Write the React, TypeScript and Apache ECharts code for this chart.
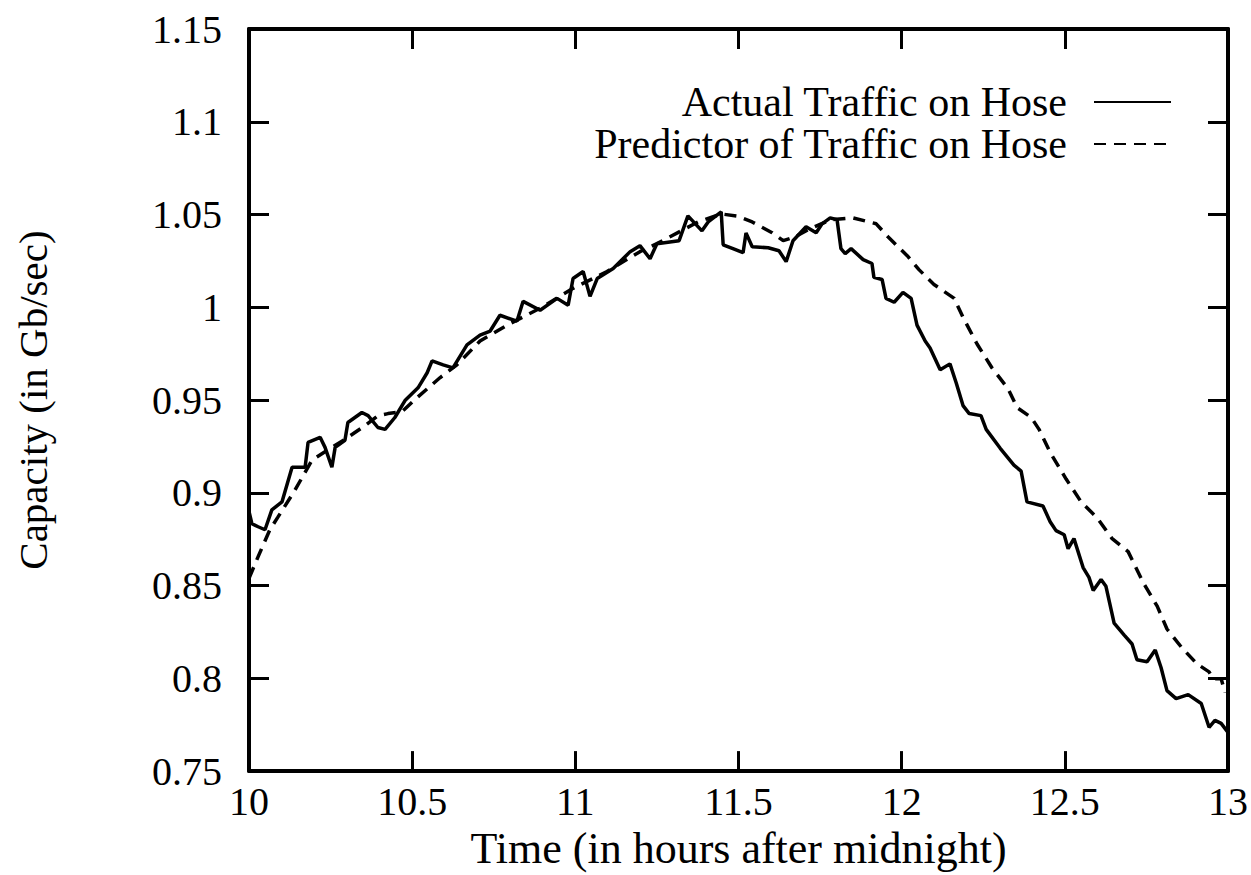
import React, { useEffect, useRef } from "react";
import * as echarts from "echarts";

// hours after midnight
const actualHours = [
  10.0, 10.009, 10.028, 10.049, 10.07, 10.101, 10.132, 10.172, 10.181, 10.218,
  10.233, 10.254, 10.264, 10.294, 10.303, 10.346, 10.365, 10.395, 10.417, 10.447,
  10.478, 10.518, 10.546, 10.561, 10.595, 10.625, 10.668, 10.708, 10.739, 10.769,
  10.821, 10.84, 10.892, 10.944, 10.978, 10.993, 11.024, 11.045, 11.067, 11.116,
  11.168, 11.198, 11.229, 11.25, 11.318, 11.345, 11.388, 11.407, 11.447, 11.453,
  11.483, 11.514, 11.523, 11.542, 11.591, 11.624, 11.646, 11.667, 11.707, 11.738,
  11.756, 11.781, 11.802, 11.814, 11.827, 11.845, 11.882, 11.909, 11.915, 11.94,
  11.952, 11.977, 12.004, 12.029, 12.047, 12.072, 12.087, 12.118, 12.148, 12.167,
  12.188, 12.207, 12.243, 12.259, 12.302, 12.344, 12.366, 12.384, 12.433, 12.455,
  12.473, 12.498, 12.51, 12.528, 12.556, 12.574, 12.587, 12.611, 12.626, 12.651,
  12.682, 12.706, 12.721, 12.752, 12.777, 12.795, 12.813, 12.841, 12.878, 12.918,
  12.942, 12.96, 12.979, 13.0,
];
const actualCapacity = [
  0.89, 0.8833, 0.8817, 0.8801, 0.8908, 0.8951, 0.9138, 0.9138, 0.9272, 0.9299,
  0.9245, 0.9138, 0.9245, 0.9283, 0.9379, 0.9433, 0.9416, 0.9352, 0.9342, 0.9406,
  0.9497, 0.9566, 0.9647, 0.9711, 0.969, 0.9673, 0.9797, 0.985, 0.9872, 0.9957,
  0.9925, 1.0032, 0.9984, 1.0048, 1.0011, 1.0155, 1.0193, 1.0059, 1.0155, 1.0209,
  1.03, 1.0332, 1.0262, 1.0343, 1.0359, 1.0493, 1.0412, 1.046, 1.0514, 1.0337,
  1.0316, 1.0294, 1.0401, 1.0326, 1.0321, 1.0305, 1.0246, 1.0359, 1.0434, 1.0402,
  1.045, 1.0482, 1.0472, 1.0316, 1.0289, 1.0316, 1.0257, 1.0236, 1.0161, 1.015,
  1.0048, 1.0027, 1.008, 1.0048, 0.9904, 0.9818, 0.9781, 0.9663, 0.9695, 0.9593,
  0.947, 0.9427, 0.9416, 0.9342, 0.924, 0.9149, 0.9117, 0.8951, 0.8929, 0.8844,
  0.8796, 0.8774, 0.8699, 0.8753, 0.8597, 0.8544, 0.8474, 0.8533, 0.8496, 0.8298,
  0.8233, 0.8185, 0.81, 0.8089, 0.8153, 0.8057, 0.7934, 0.7891, 0.7912, 0.7864,
  0.7736, 0.7773, 0.7757, 0.7709,
];

const predictorHours = [
  10.0, 10.028, 10.064, 10.089, 10.141, 10.193, 10.254, 10.294, 10.356, 10.395,
  10.426, 10.469, 10.515, 10.585, 10.637, 10.708, 10.791, 10.892, 10.993, 11.097,
  11.198, 11.25, 11.376, 11.447, 11.496, 11.542, 11.603, 11.637, 11.673, 11.719,
  11.781, 11.851, 11.922, 11.958, 12.017, 12.053, 12.099, 12.161, 12.188, 12.231,
  12.277, 12.326, 12.354, 12.397, 12.421, 12.455, 12.504, 12.55, 12.599, 12.645,
  12.694, 12.74, 12.783, 12.813, 12.859, 12.905, 12.942, 12.954, 12.979, 12.991,
];
const predictorCapacity = [
  0.8539, 0.8656, 0.8801, 0.887, 0.9015, 0.9176, 0.9245, 0.9288, 0.9363, 0.9416,
  0.9427, 0.9438, 0.9513, 0.962, 0.969, 0.9818, 0.9904, 0.9995, 1.0102, 1.0193,
  1.03, 1.0343, 1.046, 1.0503, 1.0492, 1.046, 1.0402, 1.0359, 1.038, 1.0423,
  1.0471, 1.0482, 1.045, 1.038, 1.0278, 1.0203, 1.0123, 1.0048, 0.9946, 0.9802,
  0.9673, 0.9561, 0.9459, 0.9406, 0.9342, 0.9218, 0.9074, 0.8951, 0.8865, 0.8753,
  0.8683, 0.8517, 0.8389, 0.8266, 0.8164, 0.8078, 0.8035, 0.7998, 0.7998, 0.7923,
];

const seriesNames = ["Actual Traffic on Hose", "Predictor of Traffic on Hose"];

const FONT = "'Liberation Serif', 'Times New Roman', serif";

const App: React.FC = () => {
  const chartRef = useRef<HTMLDivElement>(null);

  useEffect(() => {
    const chartDom = chartRef.current;
    if (!chartDom) return;

    const myChart = echarts.init(chartDom, undefined, { renderer: "svg" });

    const axisLine = { show: true, lineStyle: { color: "#000", width: 4 } };
    const tick = { show: true, inside: true, length: 20, lineStyle: { color: "#000", width: 3 } };

    const option: echarts.EChartsOption = {
      animation: false,
      backgroundColor: "#fff",
      textStyle: { fontFamily: FONT, color: "#000" },
      grid: { left: 249, right: 23, top: 29, bottom: 99 },
      legend: {
        data: seriesNames,
        orient: "vertical",
        align: "right",
        right: 74,
        top: 76,
        itemWidth: 77,
        itemHeight: 14,
        itemGap: 0,
        itemStyle: { opacity: 0 },
        textStyle: {
          fontFamily: FONT,
          fontSize: 42,
          color: "#000",
          lineHeight: 42,
          padding: [0, 22, 0, 0],
        },
      },
      xAxis: [
        {
          type: "value",
          min: 10,
          max: 13,
          interval: 0.5,
          name: "Time (in hours after midnight)",
          nameLocation: "middle",
          nameGap: 51,
          nameTextStyle: { fontFamily: FONT, fontSize: 44, color: "#000" },
          axisLine,
          axisTick: tick,
          splitLine: { show: false },
          axisLabel: { fontFamily: FONT, fontSize: 40, color: "#000", margin: 10 },
        },
        {
          type: "value",
          position: "top",
          min: 10,
          max: 13,
          interval: 0.5,
          axisLine,
          axisTick: tick,
          splitLine: { show: false },
          axisLabel: { show: false },
        },
      ],
      yAxis: [
        {
          type: "value",
          min: 0.75,
          max: 1.15,
          interval: 0.05,
          name: "Capacity (in Gb/sec)",
          nameLocation: "middle",
          nameGap: 196,
          nameTextStyle: { fontFamily: FONT, fontSize: 41, color: "#000" },
          axisLine,
          axisTick: tick,
          splitLine: { show: false },
          axisLabel: {
            fontFamily: FONT,
            fontSize: 40,
            color: "#000",
            margin: 27,
            formatter: (v: number) => String(parseFloat(v.toFixed(2))),
          },
        },
        {
          type: "value",
          position: "right",
          min: 0.75,
          max: 1.15,
          interval: 0.05,
          axisLine,
          axisTick: tick,
          splitLine: { show: false },
          axisLabel: { show: false },
        },
      ],
      series: [
        {
          name: seriesNames[0],
          type: "line",
          showSymbol: false,
          symbol: "none",
          data: actualHours.map((h, i) => [h, actualCapacity[i]]),
          lineStyle: { color: "#000", width: 3.5 },
          itemStyle: { color: "#000" },
        },
        {
          name: seriesNames[1],
          type: "line",
          showSymbol: false,
          symbol: "none",
          data: predictorHours.map((h, i) => [h, predictorCapacity[i]]),
          lineStyle: { color: "#000", width: 3.5, type: [12, 8] },
          itemStyle: { color: "#000" },
        },
      ],
    };

    myChart.setOption(option);

    const handleResize = (): void => {
      myChart.resize();
    };
    window.addEventListener("resize", handleResize);

    return () => {
      window.removeEventListener("resize", handleResize);
      myChart.dispose();
    };
  }, []);

  return (
    <div
      ref={chartRef}
      style={{ position: "fixed", left: 0, top: 0, width: "1251px", height: "875px" }}
    />
  );
};

export default App;
